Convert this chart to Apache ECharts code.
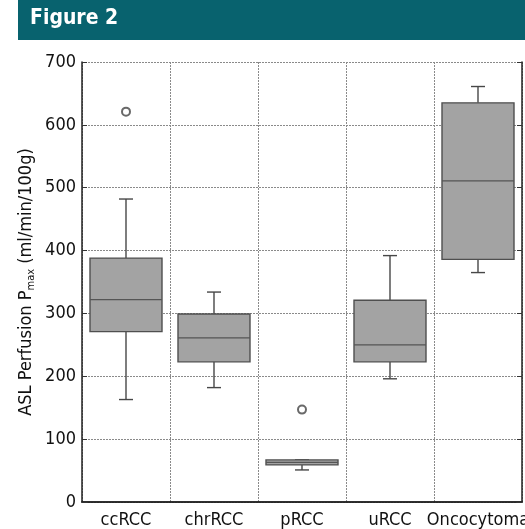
<!DOCTYPE html>
<html style="height: 100%">
<head>
<meta charset="utf-8">
</head>
<body style="height: 100%; margin: 0; background: #fff">
<div id="container" style="width: 525px; height: 529px"></div>
<script type="text/javascript" src="https://cdn.jsdelivr.net/npm/echarts@6/dist/echarts.min.js"></script>
<script type="text/javascript">
// groups on the x axis
var groups = ['ccRCC', 'chrRCC', 'pRCC', 'uRCC', 'Oncocytoma'];
// [low whisker, Q1, median, Q3, high whisker]
var ccRCC = [163, 271, 322, 388, 482];
var chrRCC = [182, 223, 261, 299, 334];
var pRCC = [51, 59, 63, 67, 67];
var uRCC = [196, 223, 250, 321, 392];
var onco = [365, 386, 511, 635, 661];
// outliers: [group index, value]
var outliers = [[0, 621], [2, 147]];
var yTicks = [0, 100, 200, 300, 400, 500, 600, 700];

var font = '"DejaVu Sans Condensed", "Liberation Sans", sans-serif';

var dom = document.getElementById('container');
var myChart = echarts.init(dom, null, {renderer: 'canvas'});

var gridLine = {show: true, interval: 0, lineStyle: {color: '#8a8a8a', type: [2, 1], width: 1}};

var boxData = [ccRCC, chrRCC, pRCC, uRCC, onco].map(function (d, i) {
    return [i].concat(d);
});

function renderBox(params, api) {
    var x = api.value(0);
    var lo = api.coord([x, api.value(1)]);
    var q1 = api.coord([x, api.value(2)]);
    var med = api.coord([x, api.value(3)]);
    var q3 = api.coord([x, api.value(4)]);
    var hi = api.coord([x, api.value(5)]);
    var cx = lo[0];
    var bw = 72, cap = 14;
    var line = {stroke: '#474747', lineWidth: 1.4};
    return {
        type: 'group',
        children: [
            {type: 'line', shape: {x1: cx, y1: q3[1], x2: cx, y2: hi[1]}, style: line},
            {type: 'line', shape: {x1: cx, y1: q1[1], x2: cx, y2: lo[1]}, style: line},
            {type: 'line', shape: {x1: cx - cap / 2, y1: hi[1], x2: cx + cap / 2, y2: hi[1]}, style: line},
            {type: 'line', shape: {x1: cx - cap / 2, y1: lo[1], x2: cx + cap / 2, y2: lo[1]}, style: line},
            {type: 'rect', shape: {x: cx - bw / 2, y: q3[1], width: bw, height: q1[1] - q3[1]},
                style: {fill: '#a3a3a3', stroke: '#4f4f4f', lineWidth: 1.4}},
            {type: 'line', shape: {x1: cx - bw / 2, y1: med[1], x2: cx + bw / 2, y2: med[1]},
                style: {stroke: '#555', lineWidth: 1.2}}
        ]
    };
}

option = {
    animation: false,
    backgroundColor: '#fff',
    graphic: [
        {
            type: 'rect',
            shape: {x: 18, y: 0, width: 507, height: 40},
            style: {fill: '#08626e'}
        },
        {
            type: 'text',
            left: 30, top: 8,
            style: {text: 'Figure 2', fill: '#fff', font: 'bold 21px ' + font}
        }
    ],
    grid: {left: 82, right: 3, top: 62, bottom: 27, outerBoundsMode: 'none', containLabel: false},
    xAxis: [{
        type: 'category',
        data: groups,
        boundaryGap: true,
        axisLine: {lineStyle: {color: '#222', width: 1.5}},
        axisTick: {inside: true, length: 5, interval: 0, lineStyle: {color: '#333'}},
        axisLabel: {color: '#111', fontSize: 18, fontFamily: font, margin: 9, interval: 0},
        splitLine: gridLine
    }, {
        type: 'category',
        data: groups,
        position: 'top',
        boundaryGap: true,
        axisLine: {lineStyle: {color: '#222', width: 1.5}},
        axisTick: {inside: true, length: 5, interval: 0, lineStyle: {color: '#333'}},
        axisLabel: {show: false}
    }],
    yAxis: [{
        type: 'value',
        min: 0, max: 700, interval: 100,
        name: 'ASL Perfusion P{sub|max} (ml/min/100g)',
        nameLocation: 'middle',
        nameGap: 45,
        nameMoveOverlap: false,
        nameTextStyle: {
            color: '#111', fontSize: 18, fontFamily: font,
            rich: {sub: {fontSize: 11, fontFamily: font, color: '#111', padding: [10, 0, 0, 0]}}
        },
        axisLine: {show: true, lineStyle: {color: '#222', width: 1.5}},
        axisTick: {show: true, inside: true, length: 5, lineStyle: {color: '#333'}},
        axisLabel: {
            color: '#111', fontSize: 18, fontFamily: font, margin: 6,
            formatter: function (v) { return yTicks.indexOf(v) >= 0 ? String(v) : ''; }
        },
        splitLine: gridLine
    }, {
        type: 'value',
        min: 0, max: 700, interval: 100,
        position: 'right',
        axisLine: {show: true, lineStyle: {color: '#222', width: 1.5}},
        axisTick: {show: true, inside: true, length: 5, lineStyle: {color: '#333'}},
        axisLabel: {show: false},
        splitLine: {show: false}
    }],
    series: [{
        type: 'custom',
        renderItem: renderBox,
        encode: {x: 0, y: [1, 2, 3, 4, 5]},
        data: boxData
    }, {
        type: 'scatter',
        symbol: 'emptyCircle',
        symbolSize: 8,
        itemStyle: {color: '#444', borderColor: '#444', borderWidth: 1.2},
        data: outliers,
        z: 5
    }]
};

myChart.setOption(option, true);
window.onresize = function () { myChart.resize(); };
</script>
</body>
</html>
